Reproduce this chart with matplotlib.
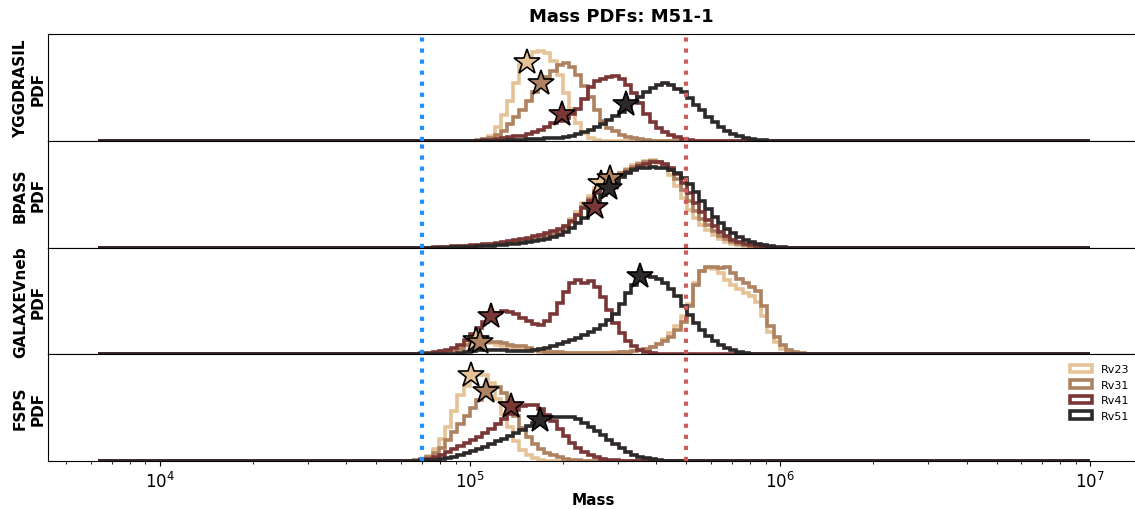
import matplotlib
matplotlib.use("Agg")
import matplotlib.pyplot as plt
import numpy as np

# histogram grid: log10(mass) from 3.8 to 7.0 in 0.02 dex bins
log_lo, log_hi, dlog = 3.8, 7.0, 0.02

labels = ["Rv23", "Rv31", "Rv41", "Rv51"]
colors = ["#e6c397", "#ae8260", "#7b3636", "#2d2929"]
panel_names = ["YGGDRASIL", "BPASS", "GALAXEVneb", "FSPS"]

# PDF heights (arbitrary units), starting at log10(M) = *_start
ygg_rv23_start = 5.04
ygg_rv23 = [2, 5, 14, 26, 40, 58, 76, 85, 89, 90, 88, 80, 66, 48, 32, 18, 8, 3, 1]
ygg_rv31_start = 5.02
ygg_rv31 = [1, 2, 3, 6, 10, 17, 24, 31, 40, 49, 56, 64, 70, 76, 78, 74, 66, 55, 44,
            31, 20, 13, 10, 6, 4, 3, 2, 1]
ygg_rv41_start = 5.04
ygg_rv41 = [1, 1, 2, 3, 4, 5, 5, 7, 9, 11, 14, 18, 20, 23, 27, 32, 42, 54, 60, 62,
            64, 65, 62, 56, 48, 38, 27, 19, 13, 9, 6, 4, 2, 1]
ygg_rv51_start = 5.12
ygg_rv51 = [1, 1, 1, 2, 2, 2, 3, 3, 3, 4, 5, 7, 9, 11, 14, 17, 21, 25, 29, 34, 39,
            44, 49, 53, 56, 58, 56, 52, 49, 43, 36, 31, 24, 19, 14, 10, 7, 5, 3, 2, 1, 1]

bpass_rv23_start = 4.90
bpass_rv23 = [1, 1, 1, 2, 2, 2, 3, 3, 4, 4, 5, 5, 6, 7, 8, 9, 11, 13, 15, 17, 22, 29,
              36, 45, 52, 60, 65, 69, 72, 75, 79, 83, 85, 87, 88, 85, 81, 73, 62, 50,
              38, 30, 23, 18, 13, 9, 6, 4, 3, 2, 1, 1]
bpass_rv31_start = 4.90
bpass_rv31 = [1, 1, 1, 1, 2, 2, 2, 3, 3, 4, 4, 5, 6, 7, 8, 9, 10, 12, 14, 16, 20, 26,
              33, 41, 49, 57, 63, 68, 72, 75, 78, 81, 84, 86, 87, 86, 83, 78, 69, 58,
              47, 37, 29, 23, 17, 12, 9, 6, 4, 3, 2, 1, 1]
bpass_rv41_start = 4.88
bpass_rv41 = [1, 1, 1, 2, 2, 2, 3, 3, 4, 4, 5, 6, 7, 8, 9, 10, 12, 13, 15, 17, 19,
              22, 27, 33, 40, 47, 55, 61, 66, 70, 73, 76, 79, 82, 84, 86, 86, 84, 80,
              74, 65, 55, 45, 36, 28, 22, 16, 12, 8, 6, 4, 3, 2, 1, 1]
bpass_rv51_start = 4.94
bpass_rv51 = [1, 1, 1, 1, 2, 2, 2, 3, 3, 4, 4, 5, 6, 7, 8, 9, 11, 13, 16, 20, 25, 30,
              38, 46, 53, 60, 66, 71, 75, 78, 80, 80, 81, 80, 80, 78, 75, 70, 64, 56,
              47, 39, 31, 25, 19, 15, 11, 8, 6, 4, 3, 2, 1, 1]

gal_rv23_start = 4.92
gal_rv23 = [1, 3, 8, 12, 13, 13, 12, 11, 9, 8, 7, 5, 4, 3, 3, 2, 2, 2, 1, 1, 1, 1, 1,
            1, 1, 1, 1, 2, 2, 2, 3, 4, 5, 7, 10, 15, 21, 28, 38, 50, 72, 84, 87, 86,
            82, 75, 70, 66, 62, 58, 52, 38, 22, 12, 5, 2, 1]
gal_rv31_start = 4.92
gal_rv31 = [1, 2, 5, 9, 11, 12, 12, 12, 12, 11, 9, 8, 8, 6, 4, 3, 2, 2, 2, 1, 1, 1,
            1, 1, 1, 1, 1, 1, 2, 2, 3, 4, 5, 7, 10, 13, 17, 24, 32, 48, 70, 84, 88,
            88, 87, 88, 82, 76, 72, 68, 64, 48, 28, 17, 9, 4, 2, 1]
gal_rv41_start = 4.84
gal_rv41 = [1, 1, 2, 3, 4, 6, 9, 14, 20, 26, 32, 37, 41, 43, 42, 40, 36, 33, 30, 29,
            33, 40, 51, 63, 72, 75, 72, 74, 68, 57, 44, 31, 21, 13, 8, 4, 2, 1]
gal_rv51_start = 4.96
gal_rv51 = [1, 2, 3, 4, 4, 4, 4, 4, 3, 3, 3, 3, 4, 5, 6, 8, 10, 12, 14, 16, 19, 22,
            25, 29, 34, 40, 50, 62, 70, 75, 79, 78, 76, 72, 66, 58, 48, 39, 31, 24,
            18, 13, 9, 6, 4, 2, 1]

fsps_rv23_start = 4.82
fsps_rv23 = [1, 2, 5, 12, 22, 34, 50, 66, 75, 84, 86, 86, 78, 62, 47, 34, 20, 11, 6, 3, 1]
fsps_rv31_start = 4.82
fsps_rv31 = [1, 2, 4, 8, 13, 21, 29, 37, 45, 53, 61, 68, 74, 74, 68, 58, 45, 33, 24,
             17, 12, 8, 6, 4, 2, 1, 1]
fsps_rv41_start = 4.84
fsps_rv41 = [1, 2, 4, 6, 9, 12, 15, 18, 21, 24, 28, 32, 37, 42, 47, 51, 55, 56, 56,
             52, 46, 40, 32, 25, 18, 13, 9, 6, 4, 2, 1, 1]
fsps_rv51_start = 4.86
fsps_rv51 = [1, 1, 2, 3, 4, 6, 8, 10, 12, 14, 17, 20, 22, 25, 28, 31, 35, 38, 41, 43,
             44, 44, 44, 44, 42, 38, 34, 30, 26, 21, 17, 13, 9, 6, 4, 3, 2, 1]

# star markers: mass and height for each Rv
ygg_star_mass = [1.53e5, 1.70e5, 1.99e5, 3.18e5]
ygg_star_pdf = [79, 58, 27, 37]
bpass_star_mass = [2.65e5, 2.83e5, 2.53e5, 2.81e5]
bpass_star_pdf = [65, 70, 41, 60]
gal_star_mass = [1.05e5, 1.08e5, 1.17e5, 3.53e5]
gal_star_pdf = [14, 12, 38, 79]
fsps_star_mass = [1.01e5, 1.13e5, 1.36e5, 1.68e5]
fsps_star_pdf = [86, 70, 55, 41]

mass_low = 7e4
mass_high = 5e5

panels = [
    ([(ygg_rv23_start, ygg_rv23), (ygg_rv31_start, ygg_rv31),
      (ygg_rv41_start, ygg_rv41), (ygg_rv51_start, ygg_rv51)],
     ygg_star_mass, ygg_star_pdf),
    ([(bpass_rv23_start, bpass_rv23), (bpass_rv31_start, bpass_rv31),
      (bpass_rv41_start, bpass_rv41), (bpass_rv51_start, bpass_rv51)],
     bpass_star_mass, bpass_star_pdf),
    ([(gal_rv23_start, gal_rv23), (gal_rv31_start, gal_rv31),
      (gal_rv41_start, gal_rv41), (gal_rv51_start, gal_rv51)],
     gal_star_mass, gal_star_pdf),
    ([(fsps_rv23_start, fsps_rv23), (fsps_rv31_start, fsps_rv31),
      (fsps_rv41_start, fsps_rv41), (fsps_rv51_start, fsps_rv51)],
     fsps_star_mass, fsps_star_pdf),
]

nbins = int(round((log_hi - log_lo) / dlog))
edges = np.logspace(log_lo, log_hi, nbins + 1)
centers = np.sqrt(edges[:-1] * edges[1:])


def full_weights(start, vals):
    w = np.zeros(nbins)
    k0 = int(round((start - log_lo) / dlog))
    w[k0:k0 + len(vals)] = vals
    return w


fig, axs = plt.subplots(4, 1, sharex=True, figsize=(11.35, 5.1), dpi=100)
fig.subplots_adjust(left=0.0423, right=1.004, top=0.931, bottom=0.094, hspace=0)

for ax, name, (curves, smass, spdf) in zip(axs, panel_names, panels):
    for (start, vals), c, lab in zip(curves, colors, labels):
        ax.hist(centers, bins=edges, weights=full_weights(start, vals),
                histtype="step", color=c, lw=2.6, label=lab)
    ax.axvline(mass_low, color="dodgerblue", ls=":", lw=3)
    ax.axvline(mass_high, color="indianred", ls=":", lw=3)
    for m, p, c in zip(smass, spdf, colors):
        ax.plot(m, p, marker="*", ms=19, mfc=c, mec="black", mew=1.2,
                ls="none", zorder=5)
    ax.set_xscale("log")
    ax.set_ylim(0, 107)
    ax.set_yticks([])
    ax.set_ylabel(f"{name}\nPDF", fontsize=11, fontweight="bold", labelpad=2)
    ax.spines["right"].set_visible(False)
    ax.tick_params(axis="x", bottom=False, which="both")

axs[-1].tick_params(axis="x", bottom=True, which="both", labelsize=12)
axs[-1].set_xlabel("Mass", fontsize=11, fontweight="bold", labelpad=1)
axs[-1].legend(loc="upper right", fontsize=8, frameon=False)
fig.suptitle("Mass PDFs: M51-1", x=0.547, y=0.985, fontsize=13, fontweight="bold")

fig.savefig("out.png", dpi=100)
